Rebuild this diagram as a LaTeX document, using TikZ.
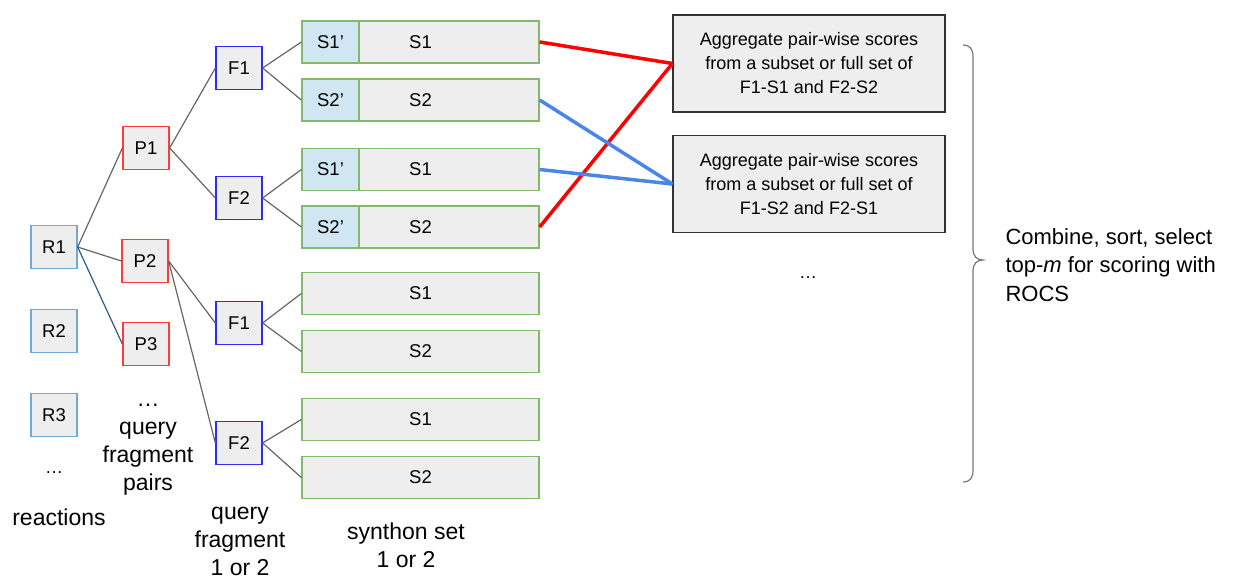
\documentclass[tikz,border=0pt]{standalone}
\usepackage{fontspec}
\setmainfont{Liberation Sans}
\definecolor{boxfill}{HTML}{EEEEEE}
\definecolor{rblue}{HTML}{6FA8DC}
\definecolor{pred}{HTML}{FF3B3B}
\definecolor{fblue}{HTML}{2B2BFF}
\definecolor{sgreen}{HTML}{82B96A}
\definecolor{sfill}{HTML}{D0E6F3}
\definecolor{lred}{HTML}{FF0000}
\definecolor{lblue}{HTML}{4A86E8}
\definecolor{conncol}{HTML}{666666}
\definecolor{darkconn}{HTML}{2A5D8A}
\definecolor{bracecol}{HTML}{777777}
\begin{document}
\begin{tikzpicture}[x=1pt,y=-1pt,
  base/.style={draw, fill=boxfill, line width=1.3pt, inner sep=0pt, minimum width=46pt, minimum height=43pt, font=\fontsize{18.5}{22}\selectfont},
  rbox/.style={base, draw=rblue},
  pbox/.style={base, draw=pred},
  fbox/.style={base, draw=fblue},
  sbox/.style={draw=sgreen, fill=boxfill, line width=1.3pt, minimum width=237pt, minimum height=42pt, inner sep=0pt, font=\fontsize{18.5}{22}\selectfont},
  spbox/.style={sbox, fill=sfill, minimum width=57pt},
  conn/.style={draw=conncol, line width=1.2pt},
  score/.style={line width=3.5pt},
  agg/.style={draw=black!80, fill=boxfill, line width=1.2pt, minimum width=272pt, minimum height=97pt, inner sep=0pt, align=center, font=\fontsize{18}{24}\selectfont},
  lab/.style={align=center, font=\fontsize{23}{28}\selectfont},
  dots/.style={font=\fontsize{18}{22}\selectfont}
]
\useasboundingbox (0,0) rectangle (1239,580);

% reactions
\node[rbox] (R1) at (54,247) {R1};
\node[rbox] (R2) at (54,331) {R2};
\node[rbox] (R3) at (54,415) {R3};
\node[dots] (rdots) at (54,473) {…};
\node[lab] (rlab) at (59,517) {reactions};

% pairs
\node[pbox] (P1) at (146,148) {P1};
\node[pbox] (P2) at (145,261) {P2};
\node[pbox] (P3) at (146,344) {P3};
\node[lab] (plab) at (148,450) {…\\query\\fragment\\pairs};

% fragments
\node[fbox] (F1a) at (239,68) {F1};
\node[fbox] (F2a) at (239,198) {F2};
\node[fbox] (F1b) at (239,323) {F1};
\node[fbox] (F2b) at (239,443) {F2};
\node[lab] (flab) at (240,541) {query\\fragment\\1 or 2};

% synthon sets
\node[sbox] (S1a) at (420.5,42) {S1};
\node[sbox] (S2a) at (420.5,100) {S2};
\node[sbox] (S1b) at (420.5,169.5) {S1};
\node[sbox] (S2b) at (420.5,227) {S2};
\node[sbox] (S1c) at (420.5,293.5) {S1};
\node[sbox] (S2c) at (420.5,351.5) {S2};
\node[sbox] (S1d) at (420.5,419.5) {S1};
\node[sbox] (S2d) at (420.5,477.5) {S2};
\node[spbox] (S1pa) at (330.5,42) {S1’};
\node[spbox] (S2pa) at (330.5,100) {S2’};
\node[spbox] (S1pb) at (330.5,169.5) {S1’};
\node[spbox] (S2pb) at (330.5,227) {S2’};
\node[lab] (slab) at (406,545) {synthon set\\1 or 2};

% connectors
\draw[conn] (R1.east) -- (P1.west);
\draw[conn] (R1.east) -- (P2.west);
\draw[conn, draw=darkconn] (R1.east) -- (P3.west);
\draw[conn] (P1.east) -- (F1a.west);
\draw[conn] (P1.east) -- (F2a.west);
\draw[conn] (P2.east) -- (F1b.west);
\draw[conn] (P2.east) -- (F2b.west);
\draw[conn] (F1a.east) -- (S1pa.west);
\draw[conn] (F1a.east) -- (S2pa.west);
\draw[conn] (F2a.east) -- (S1pb.west);
\draw[conn] (F2a.east) -- (S2pb.west);
\draw[conn] (F1b.east) -- (S1c.west);
\draw[conn] (F1b.east) -- (S2c.west);
\draw[conn] (F2b.east) -- (S1d.west);
\draw[conn] (F2b.east) -- (S2d.west);

% aggregate boxes
\node[agg] (A1) at (809,63.5) {Aggregate pair-wise scores\\from a subset or full set of\\F1-S1 and F2-S2};
\node[agg] (A2) at (809,184) {Aggregate pair-wise scores\\from a subset or full set of\\F1-S2 and F2-S1};
\node[dots] (adots) at (808,278) {…};

\draw[score, lred] (S1a.east) -- (A1.west);
\draw[score, lred] (S2b.east) -- (A1.west);
\draw[score, lblue] (S2a.east) -- (A2.west);
\draw[score, lblue] (S1b.east) -- (A2.west);

% brace
\draw[bracecol, line width=1.2pt] (963,45) .. controls (970,45) and (973,49) .. (973,57) -- (973,250) .. controls (973,256) and (977,260) .. (983,260) .. controls (977,260) and (973,264) .. (973,270) -- (973,470) .. controls (973,478) and (970,482) .. (963,482);
\node[lab, align=left, anchor=west, font=\fontsize{22}{28.5}\selectfont] (clab) at (1002,265) {Combine, sort, select\\top-\textit{m} for scoring with\\ROCS};
\end{tikzpicture}
\end{document}
